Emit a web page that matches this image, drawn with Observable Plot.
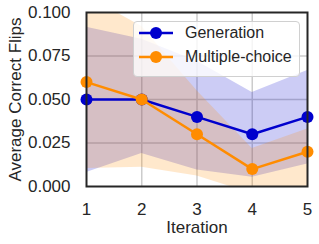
<!DOCTYPE html>
<html><head><meta charset="utf-8">
<script src="https://cdn.jsdelivr.net/npm/d3@7"></script>
<script src="https://cdn.jsdelivr.net/npm/@observablehq/plot@0.6"></script>
<style>
body{margin:0;background:#fff;}
#wrap{position:relative;width:319px;height:244px;font-family:"Liberation Sans",Arial,sans-serif;color:#262626;}
.legend{position:absolute;left:133px;top:21px;width:165px;height:54px;background:rgba(255,255,255,0.8);border:1px solid #d0d0d0;border-radius:4px;}
.entry{position:absolute;left:0;height:20px;width:165px;}
.entry svg{position:absolute;left:4px;top:0;}
.entry span{position:absolute;left:51px;top:0;line-height:20px;font-size:16px;white-space:nowrap;}
</style></head>
<body><div id="wrap"></div>
<script>
const iterations = [1, 2, 3, 4, 5];
const seriesNames = ["Generation", "Multiple-choice"];
const colors = ["#0000cd", "#ff8c00"];
const genMean = [0.05, 0.05, 0.04, 0.03, 0.04];
const genLo   = [0.008, 0.019, 0.0095, 0.0053, 0.013];
const genHi   = [0.0915, 0.0846, 0.072, 0.054, 0.0667];
const mcMean  = [0.06, 0.05, 0.03, 0.01, 0.02];
const mcLo    = [0.0103, 0.011, 0.006, -0.004, 0.0];
const mcHi    = [0.1095, 0.092, 0.055, 0.0218, 0.033];
const xTicks = [1, 2, 3, 4, 5];
const yTicks = [0, 0.025, 0.05, 0.075, 0.1];
const xGrid = [2, 3, 4];
const yGrid = [0.025, 0.05, 0.075];
const xLabel = "Iteration";
const yLabel = "Average Correct Flips";

const gen = iterations.map((x, i) => ({x, y: genMean[i], lo: genLo[i], hi: genHi[i]}));
const mc = iterations.map((x, i) => ({x, y: mcMean[i], lo: mcLo[i], hi: mcHi[i]}));

const chart = Plot.plot({
  width: 319, height: 244,
  marginLeft: 86, marginRight: 12, marginTop: 12, marginBottom: 58,
  style: {fontFamily: "'Liberation Sans', Arial, sans-serif", fontSize: "17px", color: "#262626", background: "#fff"},
  x: {domain: [1, 5]},
  y: {domain: [0, 0.1]},
  marks: [
    Plot.ruleX(xGrid, {stroke: "#cccccc", strokeWidth: 1.5}),
    Plot.ruleY(yGrid, {stroke: "#cccccc", strokeWidth: 1.5}),
    Plot.areaY(gen, {x: "x", y1: "lo", y2: "hi", fill: colors[0], fillOpacity: 0.2, clip: true}),
    Plot.areaY(mc, {x: "x", y1: "lo", y2: "hi", fill: colors[1], fillOpacity: 0.2, clip: true}),
    Plot.line(gen, {x: "x", y: "y", stroke: colors[0], strokeWidth: 2.5}),
    Plot.dot(gen, {x: "x", y: "y", r: 6, fill: colors[0], stroke: "none"}),
    Plot.line(mc, {x: "x", y: "y", stroke: colors[1], strokeWidth: 2.5}),
    Plot.dot(mc, {x: "x", y: "y", r: 6, fill: colors[1], stroke: "none"}),
    Plot.axisX({ticks: xTicks, tickSize: 0, tickPadding: 16, label: null, tickFormat: d => String(d)}),
    Plot.axisY({ticks: yTicks, tickSize: 0, tickPadding: 16, label: null, tickFormat: d3.format(".3f")}),
    Plot.text([xLabel], {frameAnchor: "bottom", dy: 41.5, textAnchor: "middle", lineAnchor: "middle", text: d => d, fill: "#262626"}),
    Plot.text([yLabel], {frameAnchor: "left", dx: -70.5, rotate: -90, textAnchor: "middle", lineAnchor: "middle", text: d => d, fill: "#262626"}),
    Plot.frame({stroke: "#262626", strokeWidth: 2})
  ]
});
const wrap = document.getElementById("wrap");
wrap.appendChild(chart);

const legend = document.createElement("div");
legend.className = "legend";
seriesNames.forEach((name, i) => {
  const e = document.createElement("div");
  e.className = "entry";
  e.style.top = (1 + i * 23.7) + "px";
  e.innerHTML = `<svg width="36" height="20"><line x1="1" x2="35" y1="10" y2="10" stroke="${colors[i]}" stroke-width="2.5"/><circle cx="18" cy="10" r="6" fill="${colors[i]}"/></svg><span>${name}</span>`;
  legend.appendChild(e);
});
wrap.appendChild(legend);
</script>
</body></html>
